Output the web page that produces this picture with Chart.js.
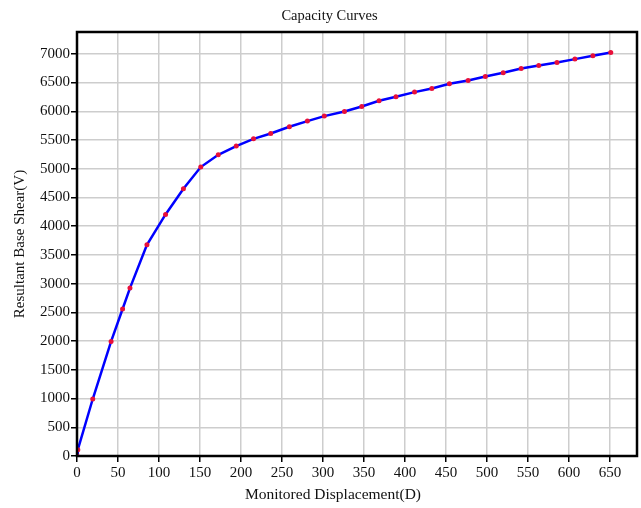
<!DOCTYPE html>
<html>
<head>
<meta charset="utf-8">
<script src="https://cdn.jsdelivr.net/npm/chart.js@4/dist/chart.umd.min.js"></script>
<style>
  html, body { margin: 0; padding: 0; background: #fff; }
  #wrap { width: 641px; height: 508px; }
</style>
</head>
<body>
<div id="wrap"><canvas id="curve"></canvas></div>
<script>
"use strict";

// 変位 (D)
const displacement = [0, 1, 19.2, 41.6, 55.6, 64.6, 85.3, 108, 129.8, 150.9, 172.3, 194.2, 215.3,
  236.3, 259, 281, 301.6, 326.2, 347.3, 368.4, 389, 411.7, 432.8, 454.2, 477, 498,
  519.8, 541.7, 563.2, 585.4, 607.3, 629.2, 651];
// 層せん断力 (V)
const baseShear = [0, 110, 992, 1994, 2558, 2923, 3677, 4204, 4651, 5029, 5243, 5394, 5521,
  5613, 5730, 5829, 5916, 5996, 6083, 6182, 6252, 6334, 6396, 6478, 6535, 6605,
  6670, 6744, 6797, 6849, 6908, 6965, 7023];

// 目盛り
const xTickValues = [0, 50, 100, 150, 200, 250, 300, 350, 400, 450, 500, 550, 600, 650];
const yTickValues = [0, 500, 1000, 1500, 2000, 2500, 3000, 3500, 4000, 4500, 5000, 5500,
  6000, 6500, 7000];

const chartTitle = 'Capacity Curves';
const xTitle = 'Monitored Displacement(D)';
const yTitle = 'Resultant Base Shear(V)';

const points = displacement.map((d, i) => ({ x: d, y: baseShear[i] }));

const serif = "'Liberation Serif', 'DejaVu Serif', serif";

// プロット領域の枠線とタイトル
const framePlugin = {
  id: 'frame',
  afterDraw(chart) {
    const a = chart.chartArea;
    const ctx = chart.ctx;
    ctx.save();
    ctx.strokeStyle = '#000';
    ctx.lineWidth = 2.5;
    ctx.strokeRect(a.left, a.top, a.right - a.left, a.bottom - a.top);

    ctx.fillStyle = '#111';
    ctx.textAlign = 'center';
    ctx.textBaseline = 'middle';
    ctx.font = '14.5px ' + serif;
    ctx.fillText(chartTitle, 329.5, 16);
    ctx.font = '15.5px ' + serif;
    ctx.fillText(xTitle, 333, 495);
    ctx.restore();
  }
};

const ctx = document.getElementById('curve').getContext('2d');
new Chart(ctx, {
  type: 'scatter',
  data: {
    datasets: [{
      data: points,
      showLine: true,
      borderColor: '#0000ff',
      borderWidth: 2.5,
      pointRadius: 2.5,
      pointBackgroundColor: '#e8103a',
      pointBorderColor: '#e8103a',
      pointBorderWidth: 0
    }]
  },
  options: {
    responsive: true,
    maintainAspectRatio: false,
    animation: false,
    layout: { padding: { top: 32, right: 1 } },
    plugins: {
      legend: { display: false },
      tooltip: { enabled: false },
      title: { display: false }
    },
    scales: {
      x: {
        type: 'linear',
        min: 0,
        max: 683,
        afterFit(scale) { scale.height = 52; },
        afterBuildTicks(scale) { scale.ticks = xTickValues.map(v => ({ value: v })); },
        border: { display: false },
        grid: { color: '#cdcdcd', lineWidth: 1.5, tickColor: '#000', tickLength: 6 },
        ticks: {
          color: '#111',
          padding: 2,
          maxRotation: 0,
          autoSkip: false,
          font: { family: serif, size: 15 },
          callback: v => String(v)
        }
      },
      y: {
        type: 'linear',
        min: 0,
        max: 7380,
        afterFit(scale) { scale.width = 77; },
        afterBuildTicks(scale) { scale.ticks = yTickValues.map(v => ({ value: v })); },
        border: { display: false },
        grid: { color: '#cdcdcd', lineWidth: 1.5, tickColor: '#000', tickLength: 6 },
        ticks: {
          color: '#111',
          padding: 1,
          autoSkip: false,
          font: { family: serif, size: 15 },
          callback: v => String(v)
        },
        title: {
          display: true,
          text: yTitle,
          color: '#111',
          font: { family: serif, size: 15 },
          padding: { top: 11, bottom: 0 }
        }
      }
    }
  },
  plugins: [framePlugin]
});
</script>
</body>
</html>
